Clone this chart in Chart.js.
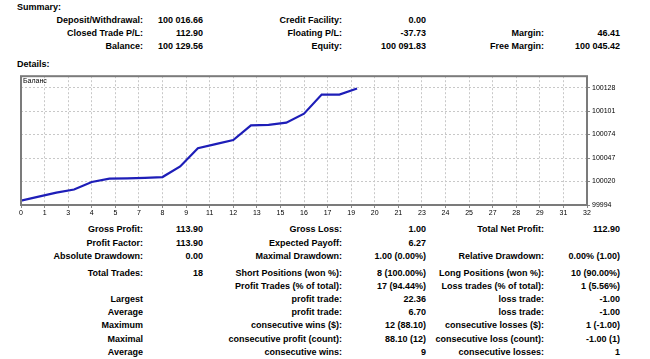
<!DOCTYPE html>
<html>
<head>
<meta charset="utf-8">
<script src="https://cdn.jsdelivr.net/npm/chart.js@4/dist/chart.umd.min.js"></script>
<style>
  html,body{margin:0;padding:0;background:#fff;width:650px;height:359px;overflow:hidden;}
  body{font-family:"Liberation Sans",Arial,sans-serif;font-size:9px;font-weight:bold;color:#000;position:relative;}
  .hdr{position:absolute;left:17px;}
  table{position:absolute;left:0;border-collapse:collapse;table-layout:fixed;}
  td{padding:0;text-align:right;white-space:nowrap;height:13.2px;line-height:13.2px;}
  tr.gap td{height:3.5px;line-height:3.5px;}
  #wrap{position:absolute;left:0;top:70px;width:650px;height:150px;}
  #ttl{position:absolute;left:23px;top:76.5px;font-size:7px;font-weight:normal;color:#000;}
</style>
</head>
<body>
<div class="hdr" style="top:2px">Summary:</div>
<table id="sum" style="top:13.5px">
  <colgroup><col style="width:143px"><col style="width:60px"><col style="width:139px"><col style="width:84px"><col style="width:118px"><col style="width:76px"></colgroup>
  <tr><td>Deposit/Withdrawal:</td><td>100 016.66</td><td>Credit Facility:</td><td>0.00</td><td></td><td></td></tr>
  <tr><td>Closed Trade P/L:</td><td>112.90</td><td>Floating P/L:</td><td>-37.73</td><td>Margin:</td><td>46.41</td></tr>
  <tr><td>Balance:</td><td>100 129.56</td><td>Equity:</td><td>100 091.83</td><td>Free Margin:</td><td>100 045.42</td></tr>
</table>
<div class="hdr" style="top:59px">Details:</div>
<div id="wrap"><canvas id="balanceChart" width="650" height="150"></canvas></div>
<div id="ttl">Баланс</div>
<table id="det" style="top:223.4px">
  <colgroup><col style="width:143px"><col style="width:60px"><col style="width:139px"><col style="width:84px"><col style="width:118px"><col style="width:76px"></colgroup>
  <tr><td>Gross Profit:</td><td>113.90</td><td>Gross Loss:</td><td>1.00</td><td>Total Net Profit:</td><td>112.90</td></tr>
  <tr><td>Profit Factor:</td><td>113.90</td><td>Expected Payoff:</td><td>6.27</td><td></td><td></td></tr>
  <tr><td>Absolute Drawdown:</td><td>0.00</td><td>Maximal Drawdown:</td><td>1.00 (0.00%)</td><td>Relative Drawdown:</td><td>0.00% (1.00)</td></tr>
  <tr class="gap"><td></td><td></td><td></td><td></td><td></td><td></td></tr>
  <tr><td>Total Trades:</td><td>18</td><td>Short Positions (won %):</td><td>8 (100.00%)</td><td>Long Positions (won %):</td><td>10 (90.00%)</td></tr>
  <tr><td></td><td></td><td>Profit Trades (% of total):</td><td>17 (94.44%)</td><td>Loss trades (% of total):</td><td>1 (5.56%)</td></tr>
  <tr><td>Largest</td><td></td><td>profit trade:</td><td>22.36</td><td>loss trade:</td><td>-1.00</td></tr>
  <tr><td>Average</td><td></td><td>profit trade:</td><td>6.70</td><td>loss trade:</td><td>-1.00</td></tr>
  <tr><td>Maximum</td><td></td><td>consecutive wins ($):</td><td>12 (88.10)</td><td>consecutive losses ($):</td><td>1 (-1.00)</td></tr>
  <tr><td>Maximal</td><td></td><td>consecutive profit (count):</td><td>88.10 (12)</td><td>consecutive loss (count):</td><td>-1.00 (1)</td></tr>
  <tr><td>Average</td><td></td><td>consecutive wins:</td><td>9</td><td>consecutive losses:</td><td>1</td></tr>
</table>
<script>
// balance after each trade
const tradeNo = [0, 1, 2, 3, 4, 5, 6, 7, 8, 9, 10, 11, 12, 13, 14, 15, 16, 17, 18, 19];
const balance = [99999, 100003.6, 100008.1, 100011.7, 100020.3, 100024.1, 100024.5, 100025, 100025.9, 100038,
                 100058.9, 100063.4, 100068.1, 100084.8, 100085.4, 100088, 100098.2, 100120, 100120, 100127];

// axis ticks as the terminal prints them
const xTickLabels = ['0','1','3','4','5','7','8','9','11','12','13','15','16','17','19','20','21','23','24','25','27','28','29','31','32'];
const xMax = 32;
const yTickValues = [99994, 100020.8, 100047.6, 100074.4, 100101.2, 100128];
const yTickLabels = ['99994','100020','100047','100074','100101','100128'];
const yMin = 99994, yMax = 100141;

const frame = {
  id:'frame',
  afterDraw(c){
    const a=c.chartArea, ctx=c.ctx;
    ctx.save(); ctx.strokeStyle='#7b7b7b'; ctx.lineWidth=2;
    ctx.strokeRect(a.left, a.top, a.right-a.left, a.bottom-a.top);
    ctx.restore();
  }
};

const tickFont = {family:'"Liberation Sans", Arial, sans-serif', size:7};

new Chart(document.getElementById('balanceChart').getContext('2d'),{
  type:'line',
  data:{datasets:[{
    label:'Баланс',
    data:tradeNo.map((x,i)=>({x:x,y:balance[i]})),
    borderColor:'#1e1eb8', borderWidth:2.2, pointRadius:0, tension:0, fill:false
  }]},
  options:{
    responsive:false, animation:false, devicePixelRatio:1,
    layout:{padding:{left:21,top:5,right:0,bottom:0}},
    plugins:{legend:{display:false},tooltip:{enabled:false}},
    scales:{
      x:{
        type:'linear', min:0, max:xMax,
        afterBuildTicks:s=>{ s.ticks = xTickLabels.map((l,i)=>({value:i*xMax/(xTickLabels.length-1)})); },
        afterFit:s=>{ s.height=15; },
        ticks:{autoSkip:false,maxRotation:0,padding:1,color:'#000',font:tickFont,callback:(v,i)=>xTickLabels[i]},
        grid:{color:'#c8c8c8',lineWidth:1,tickLength:3,tickColor:'#888',tickBorderDash:[]},
        border:{display:false,dash:[2,2]}
      },
      y:{
        type:'linear', position:'right', min:yMin, max:yMax,
        afterBuildTicks:s=>{ s.ticks = yTickValues.map(v=>({value:v})); },
        afterFit:s=>{ s.width=63; },
        ticks:{padding:2,color:'#000',font:tickFont,callback:(v,i)=>yTickLabels[i]},
        grid:{color:'#c8c8c8',lineWidth:1,tickLength:3,tickColor:'#888',tickBorderDash:[]},
        border:{display:false,dash:[2,2]}
      }
    }
  },
  plugins:[frame]
});
</script>
</body>
</html>
